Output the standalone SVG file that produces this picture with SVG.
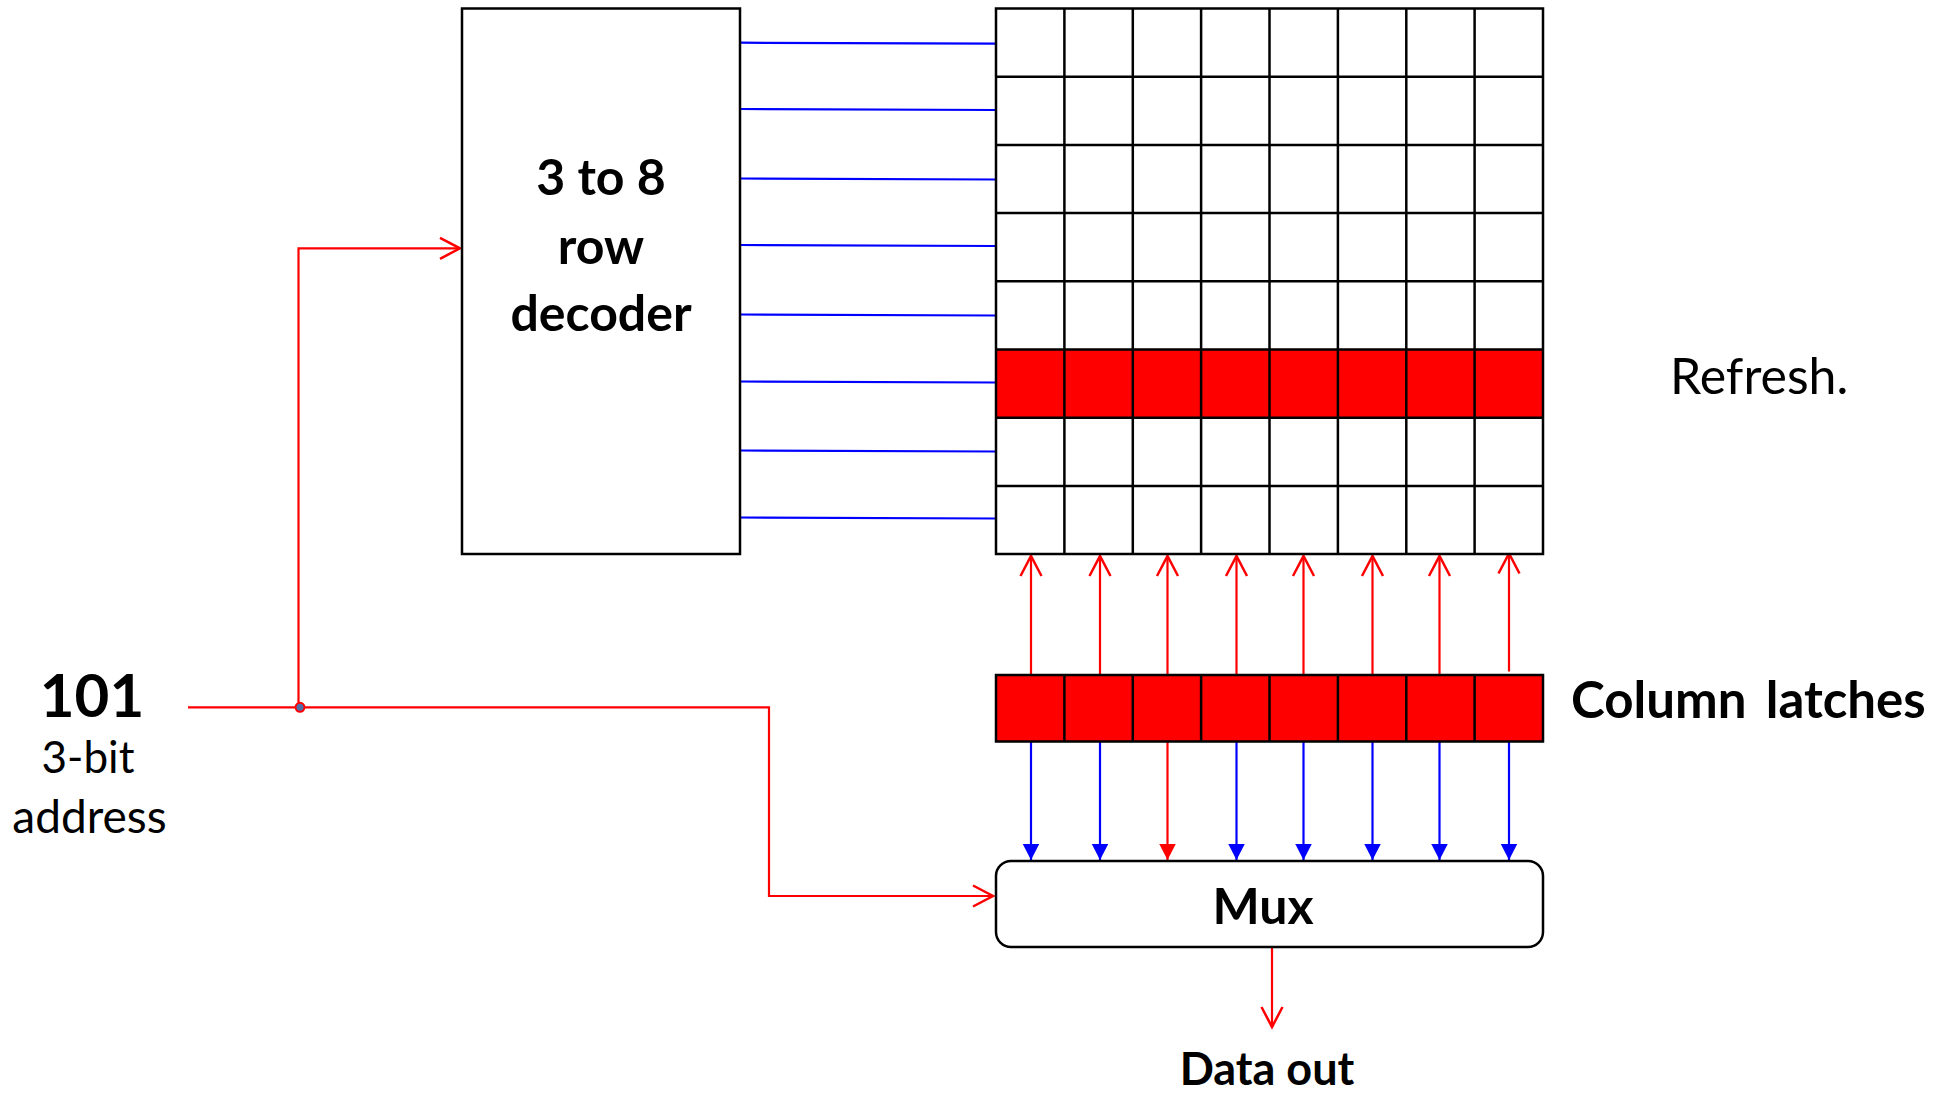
<svg xmlns="http://www.w3.org/2000/svg" width="1948" height="1096" viewBox="0 0 1948 1096">
<style>
  .box{fill:#fff;stroke:#000;stroke-width:2.5}
  .grid{stroke:#000;stroke-width:2.5;fill:none}
  .hot{fill:#ff0000}
  .wl{stroke:#0000ff;stroke-width:2.2;fill:none}
  .red{stroke:#ff0000;stroke-width:2.2;fill:none}
  .blue{stroke:#0000ff;stroke-width:2.2;fill:none}
  .b{font-family:Lato,"Liberation Sans",sans-serif;font-weight:bold;fill:#000}
  .r{font-family:Lato,"Liberation Sans",sans-serif;font-weight:normal;fill:#000}
</style>
<defs>
  <marker id="openRed" markerUnits="userSpaceOnUse" viewBox="-2 -2 26 26" markerWidth="26" markerHeight="26" refX="20" refY="10.5" orient="auto">
    <path d="M0,0 L20,10.5 L0,21" fill="none" stroke="#ff0000" stroke-width="2.5"/>
  </marker>
  <marker id="triBlue" markerUnits="userSpaceOnUse" viewBox="0 0 17 17" markerWidth="17" markerHeight="17" refX="16" refY="8.25" orient="auto">
    <path d="M0,0 L16,8.25 L0,16.5 z" fill="#0000ff"/>
  </marker>
  <marker id="triRed" markerUnits="userSpaceOnUse" viewBox="0 0 17 17" markerWidth="17" markerHeight="17" refX="16" refY="8.25" orient="auto">
    <path d="M0,0 L16,8.25 L0,16.5 z" fill="#ff0000"/>
  </marker>
</defs>
<rect width="1948" height="1096" fill="#fff"/>

<g id="connectors">
  <!-- word lines -->
  <line class="wl" x1="740" y1="42.7" x2="996" y2="43.7"/>
  <line class="wl" x1="740" y1="109" x2="996" y2="110"/>
  <line class="wl" x1="740" y1="178.5" x2="996" y2="179.5"/>
  <line class="wl" x1="740" y1="245" x2="996" y2="246"/>
  <line class="wl" x1="740" y1="314.5" x2="996" y2="315.5"/>
  <line class="wl" x1="740" y1="381.5" x2="996" y2="382.5"/>
  <line class="wl" x1="740" y1="450.5" x2="996" y2="451.5"/>
  <line class="wl" x1="740" y1="517.5" x2="996" y2="518.5"/>
  <!-- address lines -->
  <path class="red" d="M188 707.3 H769 V896 H993" marker-end="url(#openRed)"/>
  <path class="red" d="M298.5 707.3 V248.3 H460" marker-end="url(#openRed)"/>
  <circle cx="300" cy="707.3" r="4.5" fill="#4f6fa8" stroke="#ff0000" stroke-width="2"/>
  <!-- latch to array (refresh) -->
  <line class="red" x1="1031" y1="675" x2="1031" y2="556" marker-end="url(#openRed)"/>
  <line class="red" x1="1100" y1="675" x2="1100" y2="556" marker-end="url(#openRed)"/>
  <line class="red" x1="1167.5" y1="675" x2="1167.5" y2="556" marker-end="url(#openRed)"/>
  <line class="red" x1="1236.5" y1="675" x2="1236.5" y2="556" marker-end="url(#openRed)"/>
  <line class="red" x1="1303.5" y1="675" x2="1303.5" y2="556" marker-end="url(#openRed)"/>
  <line class="red" x1="1372.5" y1="675" x2="1372.5" y2="556" marker-end="url(#openRed)"/>
  <line class="red" x1="1439.5" y1="675" x2="1439.5" y2="556" marker-end="url(#openRed)"/>
  <line class="red" x1="1509" y1="671.5" x2="1509" y2="553.5" marker-end="url(#openRed)"/>
  <!-- latch to mux -->
  <line class="blue" x1="1031" y1="742" x2="1031" y2="860" marker-end="url(#triBlue)"/>
  <line class="blue" x1="1100" y1="742" x2="1100" y2="860" marker-end="url(#triBlue)"/>
  <line class="red" x1="1167.5" y1="742" x2="1167.5" y2="860" marker-end="url(#triRed)"/>
  <line class="blue" x1="1236.5" y1="742" x2="1236.5" y2="860" marker-end="url(#triBlue)"/>
  <line class="blue" x1="1303.5" y1="742" x2="1303.5" y2="860" marker-end="url(#triBlue)"/>
  <line class="blue" x1="1372.5" y1="742" x2="1372.5" y2="860" marker-end="url(#triBlue)"/>
  <line class="blue" x1="1439.5" y1="742" x2="1439.5" y2="860" marker-end="url(#triBlue)"/>
  <line class="blue" x1="1509" y1="742" x2="1509" y2="860" marker-end="url(#triBlue)"/>
  <!-- mux output -->
  <line class="red" x1="1272" y1="947" x2="1272" y2="1027" marker-end="url(#openRed)"/>
</g>

<g id="decoder">
  <rect class="box" x="462" y="8.5" width="278" height="545.5"/>
  <text class="b" x="601" y="195" font-size="50" text-anchor="middle">3 to 8</text>
  <text class="b" x="601" y="264" font-size="50" text-anchor="middle">row</text>
  <text class="b" x="601" y="331" font-size="50" text-anchor="middle">decoder</text>
</g>

<g id="memory-array">
  <rect x="996" y="8.5" width="547" height="545.5" fill="#fff"/>
  <rect class="hot" x="996" y="349.5" width="547" height="68.2"/>
  <path class="grid" d="M996 8.5 H1543 V554 H996 Z
    M996 76.7 H1543 M996 144.9 H1543 M996 213.1 H1543 M996 281.3 H1543
    M996 349.5 H1543 M996 417.7 H1543 M996 485.9 H1543
    M1064.4 8.5 V554 M1132.8 8.5 V554 M1201.1 8.5 V554 M1269.5 8.5 V554
    M1337.9 8.5 V554 M1406.3 8.5 V554 M1474.6 8.5 V554"/>
</g>

<g id="column-latches">
  <rect class="hot" x="996" y="675" width="547" height="66.5"/>
  <path class="grid" d="M996 675 H1543 V741.5 H996 Z
    M1064.4 675 V741.5 M1132.8 675 V741.5 M1201.1 675 V741.5 M1269.5 675 V741.5
    M1337.9 675 V741.5 M1406.3 675 V741.5 M1474.6 675 V741.5"/>
  <text class="b" x="1571" y="718" font-size="51" word-spacing="7">Column latches</text>
</g>

<g id="mux">
  <rect class="box" x="996" y="861" width="547" height="86" rx="15" ry="15"/>
  <text class="b" x="1263" y="924" font-size="50" text-anchor="middle">Mux</text>
</g>

<g id="address">
  <text class="b" x="92" y="717" font-size="60" text-anchor="middle">101</text>
  <text class="r" x="88" y="773" font-size="44" text-anchor="middle">3-bit</text>
  <text class="r" x="89.5" y="833" font-size="46" text-anchor="middle">address</text>
</g>

<g id="refresh-label">
  <text class="r" x="1670" y="394" font-size="50">Refresh.</text>
</g>

<g id="data-out">
  <text class="b" x="1267" y="1085" font-size="45" text-anchor="middle">Data out</text>
</g>
</svg>
